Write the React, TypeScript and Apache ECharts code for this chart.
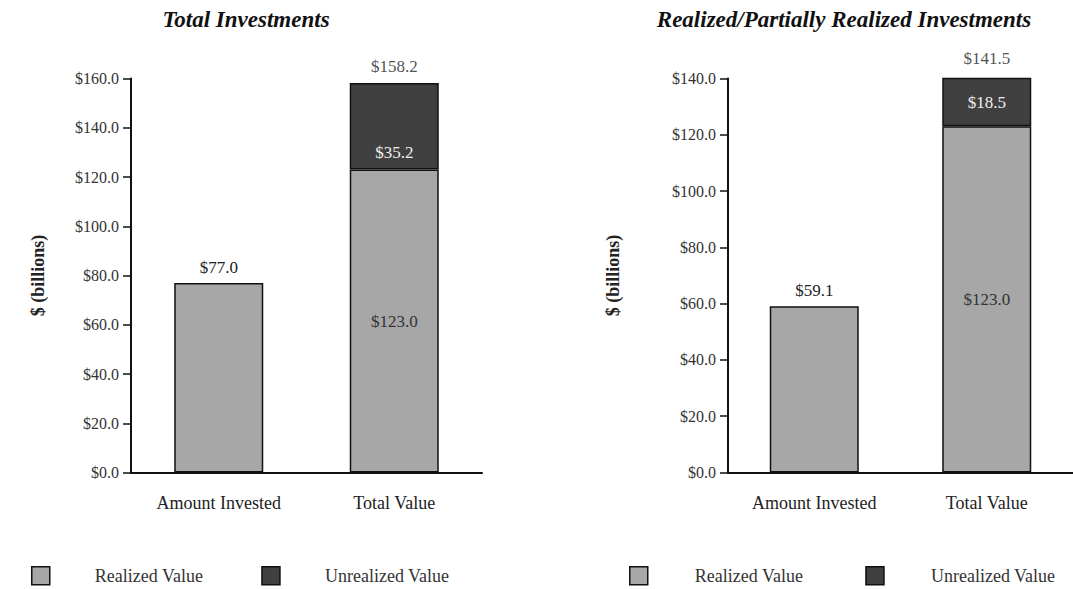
import React, { useEffect, useRef } from "react";
import * as echarts from "echarts";

const categories = ["Amount Invested", "Total Value"];
const leftTitle = "Total Investments";
const rightTitle = "Realized/Partially Realized Investments";
const leftRealized = [77.0, 123.0];
const leftUnrealized = [null, 35.2];
const leftTotal = [null, 158.2];
const rightRealized = [59.1, 123.0];
const rightUnrealized = [null, 18.5];
const rightTotal = [null, 141.5];
const leftMax = 160;
const rightMax = 140;
const tickStep = 20;

const FONT = "'Liberation Serif', 'Times New Roman', serif";
const LIGHT = "#a7a7a7";
const DARK = "#404040";
const fmt = (v: number) => "$" + v.toFixed(1);

function buildSeries(
  idx: number,
  realized: (number | null)[],
  unrealized: (number | null)[],
  total: (number | null)[],
  darkOffset: number
) {
  const stack = "s" + idx;
  return [
    {
      name: "Realized Value",
      type: "bar",
      xAxisIndex: idx,
      yAxisIndex: idx,
      stack,
      barWidth: 89,
      itemStyle: { color: LIGHT, borderColor: "#111", borderWidth: 1.5 },
      data: realized.map((v, i) =>
        i === 0
          ? { value: v, label: { show: true, position: "top", distance: 7, color: "#222" } }
          : { value: v, label: { show: true, position: "inside", color: "#333" } }
      ),
      label: {
        show: true,
        fontFamily: FONT,
        fontSize: 17,
        formatter: (p: any) => fmt(p.value),
      },
    },
    {
      name: "Unrealized Value",
      type: "bar",
      xAxisIndex: idx,
      yAxisIndex: idx,
      stack,
      barWidth: 89,
      itemStyle: { color: DARK, borderColor: "#111", borderWidth: 1.5 },
      data: unrealized.map((v) => (v == null ? "-" : v)),
      label: {
        show: true,
        position: "inside",
        offset: [0, darkOffset],
        color: "#eeeeee",
        fontFamily: FONT,
        fontSize: 17,
        formatter: (p: any) => fmt(p.value),
      },
    },
    {
      name: "total" + idx,
      type: "scatter",
      xAxisIndex: idx,
      yAxisIndex: idx,
      clip: false,
      symbolSize: 1,
      itemStyle: { color: "transparent" },
      data: total
        .map((v, i) => (v == null ? null : [i, v]))
        .filter((d) => d != null),
      label: {
        show: true,
        position: "top",
        distance: 7,
        color: "#222",
        fontFamily: FONT,
        fontSize: 17,
        formatter: (p: any) => fmt(p.value[1]),
      },
      silent: true,
    },
  ];
}

function yAxis(idx: number, max: number, nameGap: number) {
  return {
    type: "value",
    gridIndex: idx,
    min: 0,
    max,
    interval: tickStep,
    name: "$ (billions)",
    nameLocation: "middle",
    nameGap,
    nameTextStyle: { fontFamily: FONT, fontSize: 18, fontWeight: "bold", color: "#222" },
    axisLine: { show: true, lineStyle: { color: "#111", width: 2 } },
    axisTick: { show: true, inside: false, length: 8, lineStyle: { color: "#111", width: 1.5 } },
    splitLine: { show: false },
    axisLabel: {
      fontFamily: FONT,
      fontSize: 16,
      color: "#333",
      margin: 12,
      formatter: (v: number) => fmt(v),
    },
  };
}

function xAxis(idx: number) {
  return {
    type: "category",
    gridIndex: idx,
    data: categories,
    axisLine: { show: true, lineStyle: { color: "#111", width: 2 } },
    axisTick: { show: false },
    axisLabel: { fontFamily: FONT, fontSize: 18, color: "#222", margin: 21 },
  };
}

function legend(left: number, gap: number, pad: number) {
  return {
    left,
    top: 561,
    orient: "horizontal",
    icon: "rect",
    itemWidth: 18,
    itemHeight: 18,
    itemGap: gap,
    data: ["Realized Value", "Unrealized Value"],
    itemStyle: { borderColor: "#111", borderWidth: 1.5 },
    textStyle: { fontFamily: FONT, fontSize: 18, color: "#333", padding: [0, 0, 0, pad] },
    selectedMode: false,
  };
}

export default function App() {
  const ref = useRef<HTMLDivElement>(null);
  useEffect(() => {
    if (!ref.current) return;
    const chart = echarts.init(ref.current, undefined, { renderer: "svg" });
    const titleStyle = {
      fontFamily: FONT,
      fontSize: 23,
      fontWeight: "bold",
      fontStyle: "italic",
      color: "#111",
    };
    chart.setOption({
      animation: false,
      backgroundColor: "#ffffff",
      title: [
        { text: leftTitle, left: 241, top: 3, textAlign: "center", textStyle: titleStyle },
        { text: rightTitle, left: 839, top: 3, textAlign: "center", textStyle: titleStyle },
      ],
      legend: [legend(26, 58, 40), legend(624, 62, 42)],
      grid: [
        { left: 131, top: 78.5, width: 351, height: 394 },
        { left: 728, top: 78.5, width: 351, height: 394 },
      ],
      xAxis: [xAxis(0), xAxis(1)],
      yAxis: [yAxis(0, leftMax, 84), yAxis(1, rightMax, 106)],
      series: [
        ...buildSeries(0, leftRealized, leftUnrealized, leftTotal, 26),
        ...buildSeries(1, rightRealized, rightUnrealized, rightTotal, 0),
      ],
    });
    return () => chart.dispose();
  }, []);
  return (
    <div
      ref={ref}
      style={{ position: "fixed", left: 0, top: 0, width: 1073, height: 589, background: "#fff" }}
    />
  );
}
